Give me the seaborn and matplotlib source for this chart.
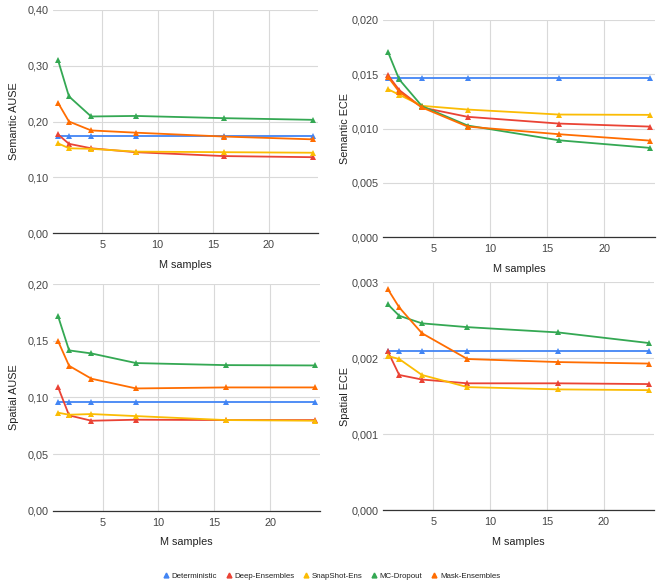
import pandas as pd
import numpy as np
import matplotlib
matplotlib.use("Agg")
import matplotlib.pyplot as plt
from matplotlib.ticker import FuncFormatter, MultipleLocator
from matplotlib.lines import Line2D
import seaborn as sns

# Data
m_samples = [1, 2, 4, 8, 16, 24]
methods = ["Deterministic", "Deep-Ensembles", "SnapShot-Ens", "MC-Dropout", "Mask-Ensembles"]
colors = ["#4285F4", "#EA4335", "#FBBC04", "#34A853", "#FF6D01"]

sem_ause_det = [0.174, 0.174, 0.174, 0.174, 0.174, 0.174]
sem_ause_deep = [0.177, 0.160, 0.152, 0.145, 0.138, 0.136]
sem_ause_snap = [0.161, 0.152, 0.151, 0.146, 0.145, 0.144]
sem_ause_mc = [0.311, 0.245, 0.209, 0.210, 0.206, 0.203]
sem_ause_mask = [0.234, 0.200, 0.184, 0.180, 0.173, 0.168]

sem_ece_det = [0.01462, 0.01462, 0.01462, 0.01462, 0.01462, 0.01462]
sem_ece_deep = [0.01492, 0.01354, 0.01194, 0.01108, 0.01046, 0.01018]
sem_ece_snap = [0.01363, 0.01311, 0.01209, 0.01175, 0.01129, 0.01126]
sem_ece_mc = [0.01708, 0.01452, 0.01206, 0.01028, 0.00892, 0.00822]
sem_ece_mask = [0.01477, 0.01338, 0.01194, 0.01018, 0.00948, 0.00889]

spa_ause_det = [0.0962, 0.0962, 0.0962, 0.0962, 0.0962, 0.0962]
spa_ause_deep = [0.1094, 0.0841, 0.0794, 0.0803, 0.0800, 0.0800]
spa_ause_snap = [0.0865, 0.0847, 0.0853, 0.0835, 0.0800, 0.0794]
spa_ause_mc = [0.1721, 0.1415, 0.1388, 0.1303, 0.1285, 0.1282]
spa_ause_mask = [0.1500, 0.1279, 0.1165, 0.1079, 0.1088, 0.1088]

spa_ece_det = [0.00209, 0.00209, 0.00209, 0.00209, 0.00209, 0.00209]
spa_ece_deep = [0.00209, 0.00178, 0.00172, 0.00167, 0.00167, 0.00166]
spa_ece_snap = [0.00203, 0.00199, 0.00178, 0.00162, 0.00159, 0.00158]
spa_ece_mc = [0.00271, 0.00256, 0.00246, 0.00241, 0.00234, 0.00220]
spa_ece_mask = [0.00291, 0.00267, 0.00233, 0.00199, 0.00195, 0.00193]


def to_long(series):
    rows = []
    for name, vals in zip(methods, series):
        for m, v in zip(m_samples, vals):
            rows.append({"M": m, "method": name, "value": v})
    return pd.DataFrame(rows)


# (ylabel, series, ymax, tick step, decimals, axes rect, ylabel pad)
panels = [
    ("Semantic AUSE", [sem_ause_det, sem_ause_deep, sem_ause_snap, sem_ause_mc, sem_ause_mask], 0.40, 0.10, 2,
     [0.080, 0.603, 0.401, 0.380], 6),
    ("Semantic ECE", [sem_ece_det, sem_ece_deep, sem_ece_snap, sem_ece_mc, sem_ece_mask], 0.020, 0.005, 3,
     [0.579, 0.596, 0.412, 0.370], 1),
    ("Spatial AUSE", [spa_ause_det, spa_ause_deep, spa_ause_snap, spa_ause_mc, spa_ause_mask], 0.20, 0.05, 2,
     [0.080, 0.130, 0.404, 0.386], 6),
    ("Spatial ECE", [spa_ece_det, spa_ece_deep, spa_ece_snap, spa_ece_mc, spa_ece_mask], 0.003, 0.001, 3,
     [0.579, 0.131, 0.411, 0.388], 1),
]

sns.set_style("white")
plt.rcParams['font.family'] = ['Liberation Sans', 'DejaVu Sans']

fig = plt.figure(figsize=(6.61, 5.87), dpi=100)
palette = dict(zip(methods, colors))

for label, series, ymax, step, dec, rect, lpad in panels:
    ax = fig.add_axes(rect)
    df = to_long(series)
    sns.lineplot(data=df, x="M", y="value", hue="method", palette=palette,
                 marker="^", markersize=5, markeredgewidth=0, linewidth=1.3,
                 ax=ax, legend=False)
    ax.set_xlim(0.55, 24.45)
    ax.set_ylim(0, ymax)
    ax.xaxis.set_major_locator(MultipleLocator(5))
    ax.yaxis.set_major_locator(MultipleLocator(step))
    ax.yaxis.set_major_formatter(FuncFormatter(lambda v, p, d=dec: f"{v:.{d}f}".replace(".", ",")))
    ax.grid(True, color="#d9d9d9", linewidth=0.8)
    ax.set_axisbelow(True)
    for s in ["top", "right", "left"]:
        ax.spines[s].set_visible(False)
    ax.spines["bottom"].set_color("#333333")
    ax.spines["bottom"].set_linewidth(0.9)
    ax.tick_params(length=0, labelsize=7.8, colors="#444444")
    ax.tick_params(axis="x", pad=5)
    ax.tick_params(axis="y", pad=3)
    ax.set_xlabel("M samples", fontsize=7.8, color="#222222", labelpad=7)
    ax.set_ylabel(label, fontsize=7.8, color="#222222", labelpad=lpad)

handles = [Line2D([], [], marker="^", linestyle="none", color=c, markersize=3.5) for c in colors]
fig.legend(handles, methods, loc="center", bbox_to_anchor=(0.5, 0.019), ncol=5, frameon=False,
           fontsize=5.7, handletextpad=0.1, columnspacing=0.9, handlelength=1.2,
           labelcolor="#222222")

fig.savefig("out.png", dpi=100)
